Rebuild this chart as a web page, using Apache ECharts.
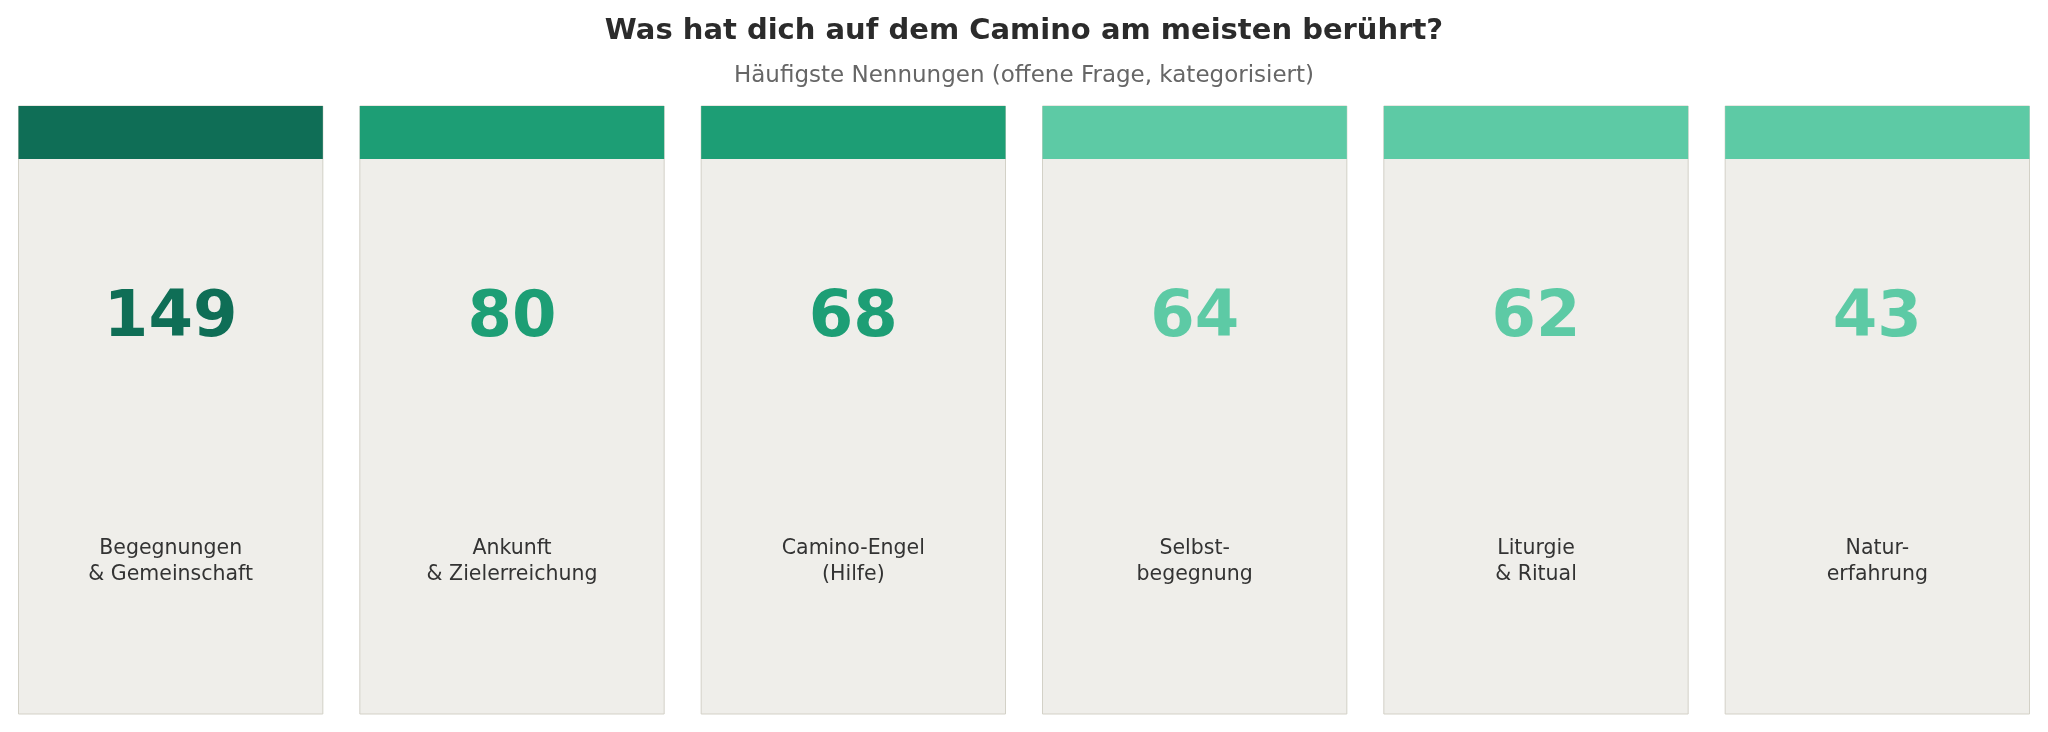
<!DOCTYPE html>
<html>
<head>
<meta charset="utf-8">
<title>Camino</title>
<script src="https://cdn.jsdelivr.net/npm/echarts@6/dist/echarts.min.js"></script>
<style>
  html, body { margin: 0; padding: 0; background: #ffffff; }
  #main { width: 2048px; height: 732px; }
</style>
</head>
<body>
<div id="main"></div>
<script>
// Kategorien (Kartenbeschriftung) und Anzahl der Nennungen
var categories = [
  'Begegnungen\n& Gemeinschaft',
  'Ankunft\n& Zielerreichung',
  'Camino-Engel\n(Hilfe)',
  'Selbst-\nbegegnung',
  'Liturgie\n& Ritual',
  'Natur-\nerfahrung'
];
var counts = [149, 80, 68, 64, 62, 43];

// Farbe je Karte (dunkel / mittel / hell)
var cardColors = ['#0f6e56', '#1d9e75', '#1d9e75', '#5dcaa5', '#5dcaa5', '#5dcaa5'];

var font = 'DejaVu Sans';

function renderCard(params, api) {
  var idx = api.value(0);
  var center = api.coord([idx, 0]);
  var band = api.size([1, 0])[0];
  var cs = params.coordSys;
  var w = band - 37;
  var x = center[0] - w / 2;
  var top = cs.y;
  var h = cs.height;
  var color = cardColors[idx];
  return {
    type: 'group',
    children: [
      {   // Kartenhintergrund
        type: 'rect',
        shape: { x: x, y: top, width: w, height: h },
        style: { fill: '#efeeea', stroke: '#d3d1c7', lineWidth: 1 }
      },
      {   // farbiger Kopfbalken
        type: 'rect',
        shape: { x: x, y: top, width: w, height: 53 },
        style: { fill: color }
      },
      {   // Zahl
        type: 'text',
        style: {
          text: String(api.value(1)),
          x: center[0], y: top + 213,
          align: 'center', verticalAlign: 'middle',
          fontFamily: font, fontWeight: 'bold', fontSize: 64,
          fill: color
        }
      },
      {   // Beschriftung
        type: 'text',
        style: {
          text: categories[idx],
          x: center[0], y: top + 456,
          align: 'center', verticalAlign: 'middle',
          fontFamily: font, fontSize: 20.5, lineHeight: 26,
          fill: '#333333'
        }
      }
    ]
  };
}

var myChart = echarts.init(document.getElementById('main'));
var option = {
  backgroundColor: '#ffffff',
  animation: false,
  title: {
    text: 'Was hat dich auf dem Camino am meisten berührt?',
    subtext: 'Häufigste Nennungen (offene Frage, kategorisiert)',
    left: 'center',
    top: 8,
    itemGap: 13,
    textStyle: { fontFamily: font, fontWeight: 'bold', fontSize: 29, lineHeight: 36, color: '#2b2b2b' },
    subtextStyle: { fontFamily: font, fontSize: 23, lineHeight: 28, color: '#666666' }
  },
  grid: { left: 0, right: 0, top: 106, bottom: 18 },
  xAxis: { type: 'category', data: categories, show: false },
  yAxis: { type: 'value', min: 0, max: 1, show: false },
  series: [{
    type: 'custom',
    renderItem: renderCard,
    data: counts.map(function (v, i) { return [i, v]; })
  }]
};
myChart.setOption(option);
</script>
</body>
</html>
